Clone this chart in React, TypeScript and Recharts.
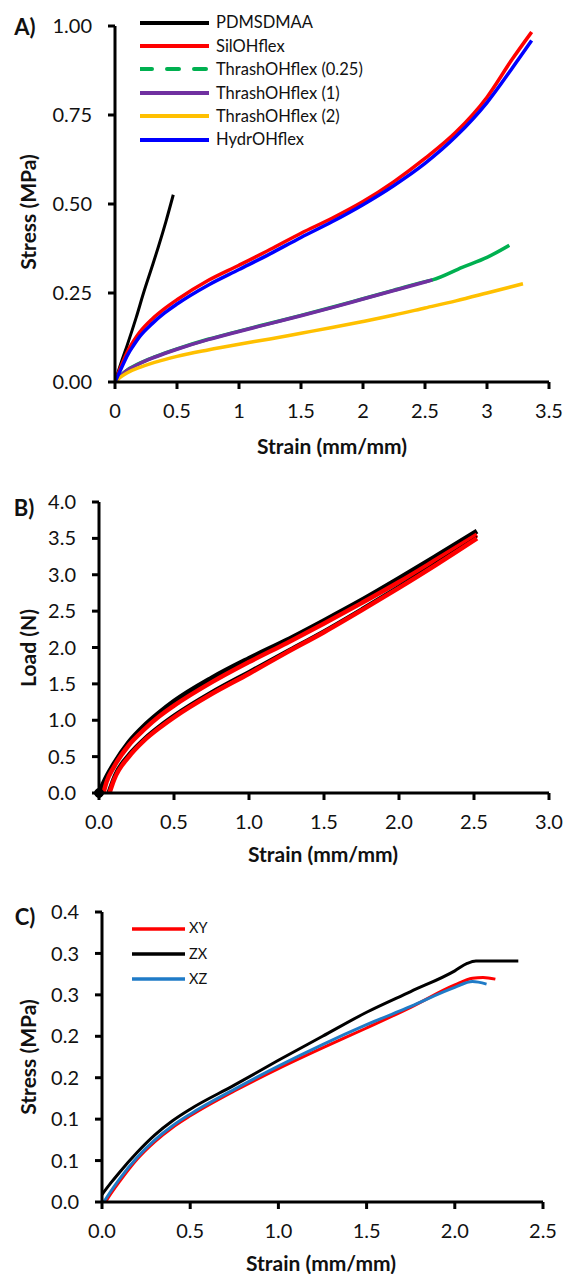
import React from 'react';
import {
  LineChart, Line, XAxis, YAxis, ReferenceDot,
} from 'recharts';

/* ─── A) tensile curves, stress (MPa) vs strain (mm/mm) ─── */
const A_PDMSDMAA: [number, number][] = [
  [0, 0], [0.05, 0.055], [0.1, 0.105], [0.17, 0.18], [0.23, 0.25], [0.3, 0.325], [0.35, 0.38], [0.41, 0.45], [0.47, 0.526],
];
const A_SILOHFLEX: [number, number][] = [
  [0, 0], [0.05, 0.045], [0.1, 0.085], [0.15, 0.115], [0.2, 0.14], [0.3, 0.177], [0.4, 0.206], [0.5, 0.231],
  [0.75, 0.285], [1.0, 0.328], [1.25, 0.372], [1.5, 0.418], [1.75, 0.46], [2.0, 0.507], [2.25, 0.563],
  [2.5, 0.628], [2.75, 0.702], [3.0, 0.8], [3.2, 0.905], [3.36, 0.983],
];
const A_THRASH025: [number, number][] = [
  [0, 0], [0.05, 0.02], [0.1, 0.034], [0.2, 0.053], [0.3, 0.068], [0.4, 0.081], [0.5, 0.093], [0.75, 0.12],
  [1.0, 0.143], [1.25, 0.165], [1.5, 0.187], [1.75, 0.21], [2.0, 0.234], [2.25, 0.258], [2.5, 0.282],
  [2.56, 0.287], [2.8, 0.322], [3.0, 0.35], [3.18, 0.384],
];
const A_THRASH1: [number, number][] = [
  [0, 0], [0.05, 0.019], [0.1, 0.033], [0.2, 0.052], [0.3, 0.067], [0.4, 0.08], [0.5, 0.092], [0.75, 0.119],
  [1.0, 0.142], [1.25, 0.164], [1.5, 0.186], [1.75, 0.209], [2.0, 0.233], [2.25, 0.257], [2.5, 0.281], [2.56, 0.287],
];
const A_THRASH2: [number, number][] = [
  [0, 0], [0.05, 0.015], [0.1, 0.026], [0.2, 0.041], [0.3, 0.053], [0.4, 0.063], [0.5, 0.072], [0.75, 0.09],
  [1.0, 0.106], [1.25, 0.121], [1.5, 0.137], [1.75, 0.153], [2.0, 0.17], [2.25, 0.188], [2.5, 0.208],
  [2.75, 0.228], [3.0, 0.25], [3.29, 0.276],
];
const A_HYDROHFLEX: [number, number][] = [
  [0, 0], [0.05, 0.038], [0.1, 0.075], [0.15, 0.103], [0.2, 0.128], [0.3, 0.164], [0.4, 0.194], [0.5, 0.219],
  [0.75, 0.272], [1.0, 0.316], [1.25, 0.36], [1.5, 0.406], [1.75, 0.45], [2.0, 0.498], [2.25, 0.552],
  [2.5, 0.614], [2.75, 0.69], [3.0, 0.785], [3.2, 0.88], [3.36, 0.959],
];

/* ─── B) load (N) vs strain, several specimens ─── */
const B_BLACK_1: [number, number][] = [
  [0, 0], [0.05, 0.22], [0.1, 0.4], [0.2, 0.7], [0.3, 0.92], [0.4, 1.1], [0.5, 1.26], [0.75, 1.58],
  [1.0, 1.85], [1.25, 2.1], [1.5, 2.37], [1.75, 2.65], [2.0, 2.95], [2.25, 3.26], [2.52, 3.6],
];
const B_RED_1: [number, number][] = [
  [0.03, 0], [0.05, 0.15], [0.1, 0.36], [0.2, 0.66], [0.3, 0.87], [0.4, 1.05], [0.5, 1.2], [0.75, 1.52],
  [1.0, 1.8], [1.25, 2.06], [1.5, 2.33], [1.75, 2.61], [2.0, 2.9], [2.25, 3.21], [2.52, 3.55],
];
const B_BLACK_2: [number, number][] = [
  [0.055, 0], [0.1, 0.25], [0.2, 0.55], [0.3, 0.76], [0.4, 0.93], [0.5, 1.08], [0.75, 1.4],
  [1.0, 1.68], [1.25, 1.96], [1.5, 2.24], [1.75, 2.54], [2.0, 2.85], [2.25, 3.17], [2.52, 3.52],
];
const B_RED_2: [number, number][] = [
  [0.07, 0], [0.1, 0.18], [0.2, 0.5], [0.3, 0.72], [0.4, 0.89], [0.5, 1.04], [0.75, 1.36],
  [1.0, 1.64], [1.25, 1.93], [1.5, 2.21], [1.75, 2.51], [2.0, 2.82], [2.25, 3.14], [2.52, 3.5],
];

/* ─── C) stress vs strain by print orientation ─── */
const C_XY: [number, number][] = [
  [0.02, 0], [0.05, 0.01], [0.1, 0.025], [0.2, 0.052], [0.3, 0.073], [0.4, 0.09], [0.5, 0.104],
  [0.75, 0.134], [1.0, 0.161], [1.25, 0.186], [1.5, 0.21], [1.75, 0.235], [2.0, 0.262], [2.1, 0.27],
  [2.16, 0.271], [2.23, 0.269],
];
const C_ZX: [number, number][] = [
  [0, 0.009], [0.05, 0.023], [0.1, 0.036], [0.2, 0.06], [0.3, 0.081], [0.4, 0.098], [0.5, 0.112],
  [0.75, 0.141], [1.0, 0.171], [1.25, 0.2], [1.5, 0.229], [1.75, 0.254], [2.0, 0.279], [2.07, 0.288],
  [2.12, 0.291], [2.36, 0.291],
];
const C_XZ: [number, number][] = [
  [0.01, 0], [0.05, 0.013], [0.1, 0.028], [0.2, 0.054], [0.3, 0.075], [0.4, 0.092], [0.5, 0.106],
  [0.75, 0.136], [1.0, 0.164], [1.25, 0.19], [1.5, 0.214], [1.75, 0.236], [2.0, 0.259], [2.1, 0.266],
  [2.18, 0.263],
];

const A_X_TICKS = [0, 0.5, 1, 1.5, 2, 2.5, 3, 3.5];
const A_Y_TICKS = [0, 0.25, 0.5, 0.75, 1];
const B_X_TICKS = [0, 0.5, 1, 1.5, 2, 2.5, 3];
const B_Y_TICKS = [0, 0.5, 1, 1.5, 2, 2.5, 3, 3.5, 4];
const C_X_TICKS = [0, 0.5, 1, 1.5, 2, 2.5];
const C_Y_TICKS = [0, 0.05, 0.1, 0.15, 0.2, 0.25, 0.3, 0.35];
// Excel rounds the 0.05 steps to one decimal, so labels repeat
const C_Y_LABELS = ['0.0', '0.1', '0.1', '0.2', '0.2', '0.3', '0.3', '0.4'];

const A_SERIES = [
  { name: 'PDMSDMAA', data: A_PDMSDMAA, color: '#000000', width: 3, dash: '' },
  { name: 'SilOHflex', data: A_SILOHFLEX, color: '#ff0000', width: 3.5, dash: '' },
  { name: 'ThrashOHflex (0.25)', data: A_THRASH025, color: '#00b050', width: 3.5, dash: '12 15' },
  { name: 'ThrashOHflex (1)', data: A_THRASH1, color: '#7030a0', width: 3.5, dash: '' },
  { name: 'ThrashOHflex (2)', data: A_THRASH2, color: '#ffc000', width: 3.5, dash: '' },
  { name: 'HydrOHflex', data: A_HYDROHFLEX, color: '#0000ff', width: 3.5, dash: '' },
];
const B_SERIES = [
  { name: 'b1', data: B_BLACK_1, color: '#000000', width: 5 },
  { name: 'r1', data: B_RED_1, color: '#ff0000', width: 4.5 },
  { name: 'b2', data: B_BLACK_2, color: '#000000', width: 2 },
  { name: 'r2', data: B_RED_2, color: '#ff0000', width: 4.5 },
];
const C_SERIES = [
  { name: 'XY', data: C_XY, color: '#ff0000', width: 3 },
  { name: 'ZX', data: C_ZX, color: '#000000', width: 3 },
  { name: 'XZ', data: C_XZ, color: '#1f7bc7', width: 3 },
];

const FONT = 'Lato, "Open Sans", sans-serif';
const INK = '#111';
const AXIS = { stroke: '#000', strokeWidth: 3 };
const TICK = { fill: INK, fontSize: 20, fontFamily: FONT };

const pts = (d: [number, number][]) => d.map(([x, y]) => ({ x, y }));

function Title({ text, x, y, rotate, size = 21 }: { text: string; x: number; y: number; rotate?: boolean; size?: number }) {
  return (
    <div style={{
      position: 'absolute', left: x, top: y, whiteSpace: 'nowrap',
      transform: `translate(-50%, -50%)${rotate ? ' rotate(-90deg)' : ''}`,
      fontFamily: FONT, fontWeight: 700, fontSize: size, color: INK, lineHeight: 1,
    }}>{text}</div>
  );
}

function LegendBox({ items, left, top, rowH, lineW, gap, size, thick }: {
  items: { name: string; color: string; dash?: string }[];
  left: number; top: number; rowH: number; lineW: number; gap: number; size: number; thick: number;
}) {
  return (
    <div style={{ position: 'absolute', left, top, fontFamily: FONT, fontSize: size, color: INK }}>
      {items.map((s) => (
        <div key={s.name} style={{ display: 'flex', alignItems: 'center', height: rowH }}>
          <svg width={lineW} height={10} style={{ marginRight: gap }}>
            <line x1={0} y1={5} x2={lineW} y2={5} stroke={s.color} strokeWidth={thick}
              strokeDasharray={s.dash || undefined} strokeLinecap="round" />
          </svg>
          <span style={{ lineHeight: 1 }}>{s.name}</span>
        </div>
      ))}
    </div>
  );
}

export default function App() {
  return (
    <div style={{ position: 'absolute', left: 0, top: 0, width: 567, height: 1274, background: '#fff' }}>
      {/* Panel A */}
      <div style={{ position: 'absolute', left: 0, top: 0 }}>
        <LineChart width={567} height={460} margin={{ top: 26, right: 18, left: 55, bottom: 48 }}>
          <XAxis type="number" dataKey="x" domain={[0, 3.5]} ticks={A_X_TICKS} interval={0}
            axisLine={AXIS} tickLine={AXIS} tickSize={7} tickMargin={15} tick={TICK} height={30}
            allowDataOverflow />
          <YAxis type="number" dataKey="y" domain={[0, 1]} ticks={A_Y_TICKS} interval={0}
            axisLine={AXIS} tickLine={AXIS} tickSize={7} tickMargin={16} tick={TICK} width={60}
            tickFormatter={(v: number) => v.toFixed(2)} allowDataOverflow />
          {A_SERIES.map((s) => (
            <Line key={s.name} data={pts(s.data)} dataKey="y" type="monotone" stroke={s.color}
              strokeWidth={s.width} dot={false} isAnimationActive={false} />
          ))}
        </LineChart>
        <Title text="A)" x={25} y={27} size={22} />
        <Title text="Stress (MPa)" x={27} y={212} rotate />
        <Title text="Strain (mm/mm)" x={332} y={445} />
        <LegendBox items={A_SERIES} left={140} top={11} rowH={23.4} lineW={69} gap={7} size={16.5} thick={4} />
      </div>

      {/* Panel B */}
      <div style={{ position: 'absolute', left: 0, top: 460 }}>
        <LineChart width={567} height={420} margin={{ top: 42, right: 18, left: 39, bottom: 57 }}>
          <XAxis type="number" dataKey="x" domain={[0, 3]} ticks={B_X_TICKS} interval={0}
            axisLine={AXIS} tickLine={AXIS} tickSize={7} tickMargin={15} tick={TICK} height={30}
            tickFormatter={(v: number) => v.toFixed(1)} allowDataOverflow />
          <YAxis type="number" dataKey="y" domain={[0, 4]} ticks={B_Y_TICKS} interval={0}
            axisLine={AXIS} tickLine={AXIS} tickSize={7} tickMargin={16} tick={TICK} width={60}
            tickFormatter={(v: number) => v.toFixed(1)} allowDataOverflow />
          {B_SERIES.map((s) => (
            <Line key={s.name} data={pts(s.data)} dataKey="y" type="monotone" stroke={s.color}
              strokeWidth={s.width} dot={false} isAnimationActive={false} />
          ))}
          <ReferenceDot x={0} y={0} r={4.5} fill="#000" stroke="#000" ifOverflow="visible" />
        </LineChart>
        <Title text="B)" x={24} y={48} size={22} />
        <Title text="Load (N)" x={27} y={188} rotate />
        <Title text="Strain (mm/mm)" x={323} y={393} />
      </div>

      {/* Panel C */}
      <div style={{ position: 'absolute', left: 0, top: 880 }}>
        <LineChart width={567} height={394} margin={{ top: 32, right: 24, left: 42, bottom: 42 }}>
          <XAxis type="number" dataKey="x" domain={[0, 2.5]} ticks={C_X_TICKS} interval={0}
            axisLine={AXIS} tickLine={AXIS} tickSize={7} tickMargin={15} tick={TICK} height={30}
            tickFormatter={(v: number) => v.toFixed(1)} allowDataOverflow />
          <YAxis type="number" dataKey="y" domain={[0, 0.35]} ticks={C_Y_TICKS} interval={0}
            axisLine={AXIS} tickLine={AXIS} tickSize={7} tickMargin={16} tick={TICK} width={60}
            tickFormatter={(_v: number, i: number) => C_Y_LABELS[i]} allowDataOverflow />
          {C_SERIES.map((s) => (
            <Line key={s.name} data={pts(s.data)} dataKey="y" type="monotone" stroke={s.color}
              strokeWidth={s.width} dot={false} isAnimationActive={false} />
          ))}
        </LineChart>
        <Title text="C)" x={25} y={37} size={22} />
        <Title text="Stress (MPa)" x={27} y={177} rotate />
        <Title text="Strain (mm/mm)" x={321} y={382} />
        <LegendBox items={C_SERIES} left={132} top={36} rowH={25.3} lineW={53} gap={4} size={14.5} thick={3.5} />
      </div>
    </div>
  );
}
